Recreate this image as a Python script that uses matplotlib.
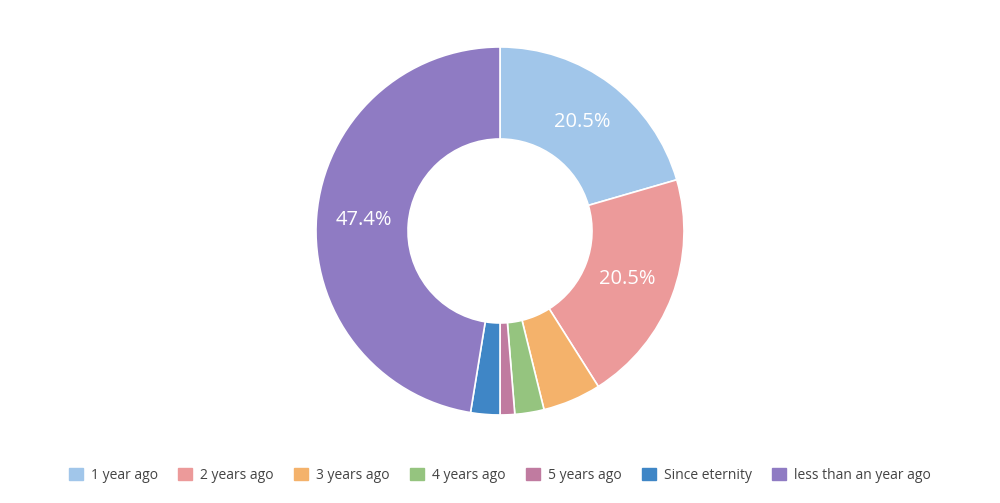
import matplotlib.pyplot as plt
from matplotlib.patches import Patch

labels = ['1 year ago', '2 years ago', '3 years ago', '4 years ago',
          '5 years ago', 'Since eternity', 'less than an year ago']
counts = [16, 16, 4, 2, 1, 2, 37]
colors = ['#a1c6ea', '#ec9a9a', '#f4b26b', '#95c47f', '#c07ba0', '#3f86c6', '#8f7bc3']

fig = plt.figure(figsize=(10, 5.03), dpi=100)
ax = fig.add_axes([0.316, 0.175, 0.368, 0.7316])


def fmt(p):
    return '%.1f%%' % p if p > 10 else ''


wedges, texts, autotexts = ax.pie(counts, colors=colors, startangle=90, counterclock=False,
                                  radius=1.0, autopct=fmt, pctdistance=0.74,
                                  wedgeprops=dict(width=0.5, edgecolor='white', linewidth=1.2),
                                  textprops=dict(color='white', fontsize=14.5, family='Open Sans'))
ax.set_xlim(-1, 1)
ax.set_ylim(-1, 1)
ax.set_aspect('equal')
ax.axis('off')

handles = [Patch(facecolor=c, edgecolor=c) for c in colors]
fig.legend(handles, labels, loc='center', bbox_to_anchor=(0.5, 0.055), ncol=7,
           frameon=False, handlelength=1.0, handleheight=1.0,
           handletextpad=0.6, columnspacing=1.45, labelcolor='#444444',
           prop=dict(family='Open Sans', size=10))

fig.savefig('out.png', dpi=100)
